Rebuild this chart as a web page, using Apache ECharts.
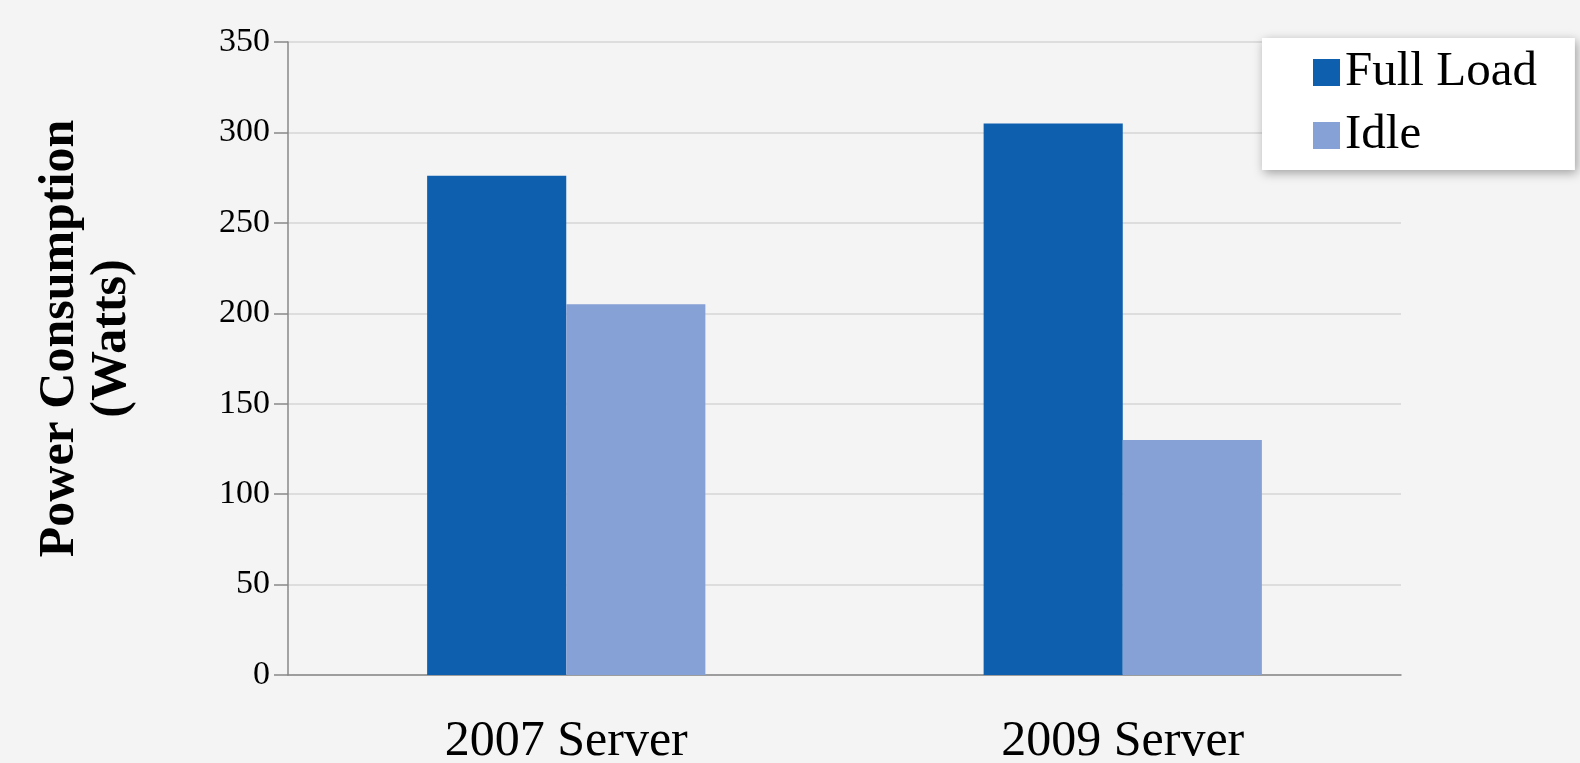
<!DOCTYPE html>
<html>
<head>
<meta charset="utf-8">
<script src="https://cdn.jsdelivr.net/npm/echarts@6/dist/echarts.min.js"></script>
<style>
  html, body { margin: 0; padding: 0; background: #f4f4f4; }
  #chart { width: 1580px; height: 763px; }
</style>
</head>
<body>
<div id="chart"></div>
<script>
var categories = ['2007 Server', '2009 Server'];
var fullLoad = [276, 305];
var idle = [205, 130];
var yTicks = [0, 50, 100, 150, 200, 250, 300, 350];

var chart = echarts.init(document.getElementById('chart'));
var serif = '"Liberation Serif", "DejaVu Serif", serif';

var option = {
    backgroundColor: '#f4f4f4',
    textStyle: { fontFamily: serif },
    grid: { left: 288, right: 179, top: 42, bottom: 88, outerBoundsMode: 'none' },
    legend: {
        orient: 'vertical',
        left: 1262,
        top: 38,
        padding: [10, 38, 10, 51],
        itemGap: 14,
        itemWidth: 27,
        itemHeight: 27,
        icon: 'rect',
        backgroundColor: '#ffffff',
        shadowColor: 'rgba(0,0,0,0.35)',
        shadowBlur: 10,
        shadowOffsetX: 2,
        shadowOffsetY: 3,
        textStyle: { fontSize: 49, color: '#000', fontFamily: serif },
        data: ['Full Load', 'Idle']
    },
    xAxis: {
        type: 'category',
        data: categories,
        axisLine: { lineStyle: { color: '#888', width: 1.5 } },
        axisTick: { length: 14, lineStyle: { color: '#888', width: 1.5 } },
        axisLabel: { fontSize: 50, color: '#000', margin: 42, fontFamily: serif }
    },
    yAxis: {
        type: 'value',
        min: yTicks[0],
        max: yTicks[yTicks.length - 1],
        interval: 50,
        name: 'Power Consumption\n(Watts)',
        nameLocation: 'middle',
        nameRotate: 90,
        nameGap: 150,
        nameTextStyle: { fontSize: 50, fontWeight: 'bold', color: '#000', lineHeight: 52, fontFamily: serif, padding: [0, 0, 0, 40] },
        axisLine: { show: true, lineStyle: { color: '#888', width: 1.5 } },
        axisTick: { show: true, length: 14, lineStyle: { color: '#888', width: 1.5 } },
        axisLabel: { fontSize: 34, color: '#000', margin: 18, fontFamily: serif },
        splitLine: { lineStyle: { color: '#d6d6d6', width: 1.5 } }
    },
    series: [
        {
            name: 'Full Load',
            type: 'bar',
            data: fullLoad,
            barGap: '0%',
            barCategoryGap: '50%',
            itemStyle: { color: '#0e5fae' }
        },
        {
            name: 'Idle',
            type: 'bar',
            data: idle,
            itemStyle: { color: '#86a1d5' }
        }
    ]
};
chart.setOption(option);
</script>
</body>
</html>
